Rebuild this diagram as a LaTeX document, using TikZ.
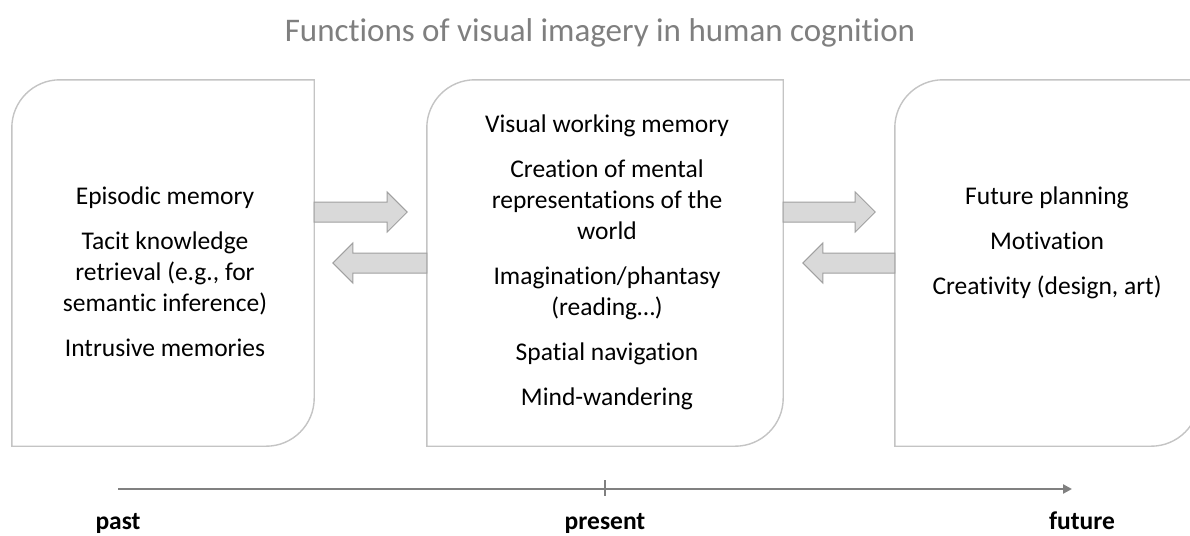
\documentclass[tikz,border=0pt]{standalone}
\usepackage{fontspec}
\setmainfont{Carlito}[Ligatures=NoCommon]
\usetikzlibrary{calc,arrows.meta}
\definecolor{boxgray}{HTML}{C4C4C4}
\definecolor{arrfill}{HTML}{D9D9D9}
\definecolor{arredge}{HTML}{A0A0A0}
\definecolor{titlegray}{HTML}{7F7F7F}
\definecolor{linegray}{HTML}{808080}
\newcommand{\drawdiagbox}[1]{%
  \draw[boxline] (#1.south west) -- ($(#1.north west)+(0,48)$)
    .. controls ($(#1.north west)+(0,21.5)$) and ($(#1.north west)+(21.5,0)$) .. ($(#1.north west)+(48,0)$)
    -- (#1.north east) -- ($(#1.south east)+(0,-48)$)
    .. controls ($(#1.south east)+(0,-21.5)$) and ($(#1.south east)+(-21.5,0)$) .. ($(#1.south east)+(-48,0)$)
    -- cycle;}
\tikzset{
  boxarea/.style={rectangle, inner sep=0pt, minimum height=366pt},
  boxline/.style={draw=boxgray, line width=1.4pt, fill=white},
  boxtext/.style={align=center, inner sep=0pt, font=\fontsize{25.5}{31}\selectfont, text=black},
  fatarrow/.style={draw=arredge, fill=arrfill, line width=1pt, line join=miter},
  timeline/.style={draw=linegray, line width=2.5pt, -{Triangle[length=9pt,width=9pt]}},
  tickmark/.style={draw=linegray, line width=1.5pt},
  timelabel/.style={anchor=base, inner sep=0pt, font=\fontsize{25.5}{31}\selectfont\bfseries},
  titletext/.style={anchor=base, inner sep=0pt, font=\fontsize{33}{40}\selectfont, text=titlegray}
}
\begin{document}
\begin{tikzpicture}[x=1pt,y=-1pt]
\useasboundingbox (0,0) rectangle (1190,535);
\fill[white] (0,0) rectangle (1190,535);

\node[titletext] (title) at (600,41.6) {Functions of visual imagery in human cognition};

% boxes
\node[boxarea, minimum width=302pt] (L) at (163,263) {};
\node[boxarea, minimum width=356pt] (M) at (605,263) {};
\node[boxarea, minimum width=304pt] (R) at (1047,263) {};
\drawdiagbox{L}
\drawdiagbox{M}
\drawdiagbox{R}

\node[boxtext] (Lt) at ($(L.center)+(2,9)$) {Episodic memory\\[14pt]Tacit knowledge\\retrieval (e.g., for\\semantic inference)\\[14pt]Intrusive memories};
\node[boxtext] (Mt) at ($(M.center)+(2,-1)$) {Visual working memory\\[14pt]Creation of mental\\representations of the\\world\\[14pt]Imagination/phantasy\\(reading\ldots)\\[14pt]Spatial navigation\\[14pt]Mind-wandering};
\node[boxtext] (Rt) at ($(R.center)+(0,-20)$) {Future planning\\[14pt]Motivation\\[14pt]Creativity (design, art)};

% block arrows
\draw[fatarrow] (L.east) ++(0,-51) ++(0,-10) -- ++(73,0) -- ++(0,-10) -- ++(20,20) -- ++(-20,20) -- ++(0,-10) -- ++(-73,0) -- cycle;
\draw[fatarrow] (M.west) ++(0,-10) -- ++(-74,0) -- ++(0,-10) -- ++(-20,20) -- ++(20,20) -- ++(0,-10) -- ++(74,0) -- cycle;
\draw[fatarrow] (M.east) ++(0,-51) ++(0,-10) -- ++(72,0) -- ++(0,-10) -- ++(20,20) -- ++(-20,20) -- ++(0,-10) -- ++(-72,0) -- cycle;
\draw[fatarrow] (R.west) ++(0,-10) -- ++(-72,0) -- ++(0,-10) -- ++(-20,20) -- ++(20,20) -- ++(0,-10) -- ++(72,0) -- cycle;

% timeline
\coordinate (t0) at (118,489);
\coordinate (t1) at (1072,489);
\coordinate (tp) at (605,489);
\draw[timeline] (t0) -- (t1);
\draw[tickmark] ($(tp)+(0,-9)$) -- ($(tp)+(0,7)$);
\node[timelabel] (past) at (118,529.5) {past};
\node[timelabel] (present) at (605,529.5) {present};
\node[timelabel] (future) at (1082,529.5) {future};
\end{tikzpicture}
\end{document}
